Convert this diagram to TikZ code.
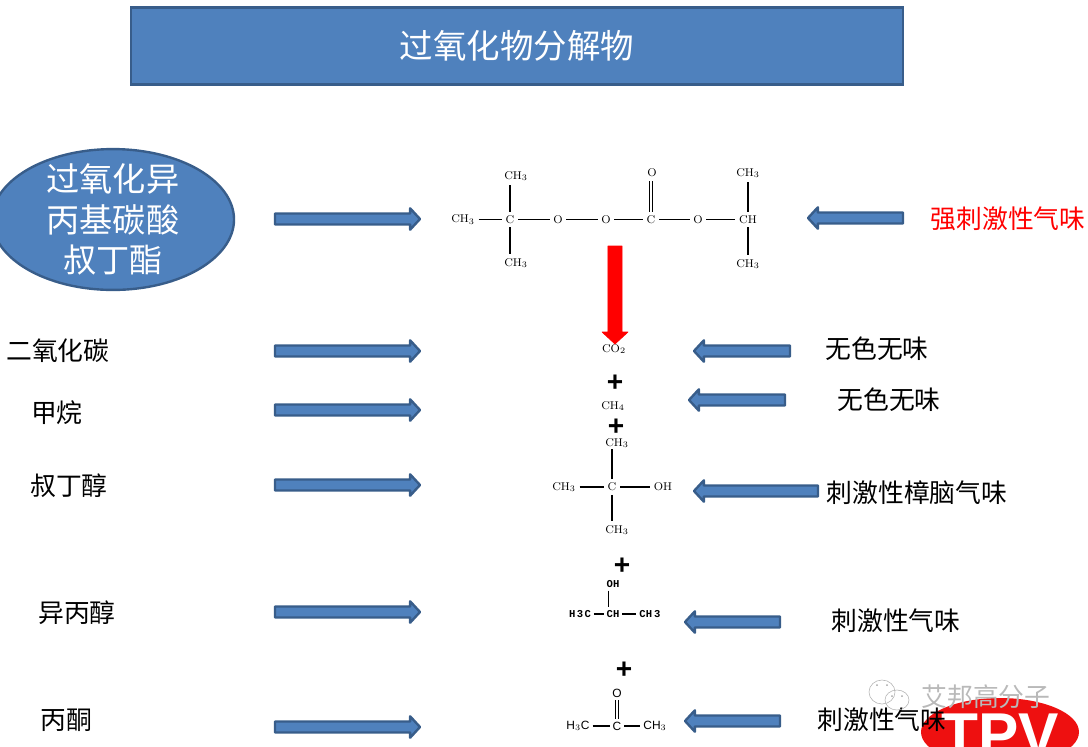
\documentclass[tikz,border=0pt]{standalone}
\usepackage{fontspec}
\newfontfamily\cjk{Noto Sans CJK SC}
\newfontfamily\helv{Liberation Sans}
\newfontfamily\cour{Liberation Mono}
\usetikzlibrary{calc,shapes.geometric}
\definecolor{boxblue}{HTML}{4F81BD}
\definecolor{edgeblue}{HTML}{385D8A}
\definecolor{logored}{HTML}{EE1010}
\tikzset{
  fatarrow/.style args={#1/#2/#3}{to path={
    ($(\tikztostart)!#1!90:(\tikztotarget)$)
    -- ($($(\tikztotarget)!#3!(\tikztostart)$)!#1!90:(\tikztotarget)$)
    -- ($($(\tikztotarget)!#3!(\tikztostart)$)!#2!90:(\tikztotarget)$)
    -- (\tikztotarget)
    -- ($($(\tikztotarget)!#3!(\tikztostart)$)!#2!-90:(\tikztotarget)$)
    -- ($($(\tikztotarget)!#3!(\tikztostart)$)!#1!-90:(\tikztotarget)$)
    -- ($(\tikztostart)!#1!-90:(\tikztotarget)$) -- cycle}},
  bluearrow/.style={fatarrow={3.9pt/7.6pt/7pt},fill=boxblue,draw=edgeblue,line width=1.7pt,line join=round},
  redarrow/.style={fatarrow={5pt/9.2pt/8.5pt},fill=red,draw=red,line width=0.5pt,line join=round},
  label/.style={font=\cjk\fontsize{18.35}{22}\selectfont,inner sep=0pt},
  atom/.style={font=\fontsize{8}{9}\selectfont,inner sep=2.5pt},
  monoatom/.style={font=\cour\bfseries\fontsize{7.5}{9}\selectfont,inner sep=2pt},
  sansatom/.style={font=\helv\fontsize{8.5}{10}\selectfont,inner sep=2pt},
  plus/.style={font=\helv\bfseries\fontsize{20}{20}\selectfont,inner sep=0pt},
  bond/.style={line width=0.8pt},
  dbond/.style={line width=0.7pt,double,double distance=1.6pt}
}
\begin{document}
\begin{tikzpicture}[x=0.025cm,y=-0.025cm]
  \useasboundingbox (0,0) rectangle (1088,746);
  \clip (0,0) rectangle (1088,746);

  \node[draw=edgeblue,fill=boxblue,line width=1.7pt,minimum width=19.3cm,minimum height=1.925cm,inner sep=0pt,text=white,font=\cjk\fontsize{23.8}{28}\selectfont] (title) at (517,46) {过氧化物分解物};
  \node[ellipse,draw=edgeblue,fill=boxblue,line width=1.7pt,minimum width=6.05cm,minimum height=3.52cm,inner sep=0pt] (perox) at (113,219.5) {};
  \node[text=white,align=center,inner sep=0pt,font=\cjk\fontsize{23.6}{29}\selectfont] (peroxname) at (perox) {过氧化异\\丙基碳酸\\叔丁酯};

  \node[atom] (c1) at (510,219.5) {C};
  \node[atom] (m1) at (516,176) {CH$_3$};
  \node[atom] (m2) at (463,219.5) {CH$_3$};
  \node[atom] (m3) at (516,263) {CH$_3$};
  \node[atom] (o1) at (558,219.5) {O};
  \node[atom] (o2) at (606,219.5) {O};
  \node[atom] (c2) at (651,219.5) {C};
  \node[atom] (o3) at (652,173) {O};
  \node[atom] (o4) at (698,219.5) {O};
  \node[atom] (ch1) at (748,219.5) {CH};
  \node[atom] (m4) at (748,173) {CH$_3$};
  \node[atom] (m5) at (748,264) {CH$_3$};
  \draw[bond] (c1.north) -- (c1.north |- m1.south);
  \draw[bond] (c1.south) -- (c1.south |- m3.north);
  \draw[bond] (m2) -- (c1);
  \draw[bond] (c1) -- (o1);
  \draw[bond] (o1) -- (o2);
  \draw[bond] (o2) -- (c2);
  \draw[bond] (c2) -- (o4);
  \draw[bond] (o4) -- (ch1);
  \draw[dbond] (c2.north) -- (c2.north |- o3.south);
  \draw[bond] (ch1.north) -- (ch1.north |- m4.south);
  \draw[bond] (ch1.south) -- (ch1.south |- m5.north);

  \node[atom] (co2) at (614,349) {CO$_2$};
  \node[plus] (plus1) at (615,383) {+};
  \node[atom] (ch4) at (613,406) {CH$_4$};
  \node[plus] (plus2) at (616,427.5) {+};

  \node[atom] (c3) at (612,487) {C};
  \node[atom,inner sep=0.5pt] (m6) at (617,443) {CH$_3$};
  \node[atom] (m7) at (564,487) {CH$_3$};
  \node[atom] (oh1) at (663,487) {OH};
  \node[atom] (m8) at (617,530) {CH$_3$};
  \draw[bond] (c3.north) -- (c3.north |- m6.south);
  \draw[bond] (c3.south) -- (c3.south |- m8.north);
  \draw[bond] (m7) -- (c3);
  \draw[bond] (c3) -- (oh1);

  \node[plus] (plus3) at (622,566) {+};
  \node[monoatom] (oh2) at (613,584) {OH};
  \node[monoatom] (ch2) at (613,614) {CH};
  \node[monoatom] (m9) at (580,614) {H\hspace{1pt}3\hspace{1pt}C};
  \node[monoatom] (m10) at (650,614) {CH\hspace{1.5pt}3};
  \draw[bond] ([xshift=-3pt]oh2.south) -- ([xshift=-3pt]oh2.south |- ch2.north);
  \draw[bond] (m9) -- (ch2);
  \draw[bond] (ch2) -- (m10);

  \node[plus] (plus4) at (624,670) {+};
  \node[sansatom] (c4) at (617,726) {C};
  \node[sansatom] (o5) at (617,693) {O};
  \node[sansatom] (m11) at (578,726) {H$_3$C};
  \node[sansatom] (m12) at (655,726) {CH$_3$};
  \draw[dbond] (c4) -- (o5);
  \draw[bond] (m11) -- (c4);
  \draw[bond] (c4) -- (m12);

  \coordinate (r1s) at (275,219);
  \coordinate (r1e) at (420,219);
  \coordinate (r2s) at (275,351);
  \coordinate (r2e) at (420,351);
  \coordinate (r3s) at (275,410);
  \coordinate (r3e) at (420,410);
  \coordinate (r4s) at (275,485);
  \coordinate (r4e) at (420,485);
  \coordinate (r5s) at (275,612);
  \coordinate (r5e) at (420,612);
  \coordinate (r6s) at (275,727);
  \coordinate (r6e) at (420,727);
  \draw[bluearrow] (r1s) to (r1e);
  \draw[bluearrow] (r2s) to (r2e);
  \draw[bluearrow] (r3s) to (r3e);
  \draw[bluearrow] (r4s) to (r4e);
  \draw[bluearrow] (r5s) to (r5e);
  \draw[bluearrow] (r6s) to (r6e);

  \coordinate (l1s) at (903,218);
  \coordinate (l1e) at (808,218);
  \coordinate (l2s) at (790,351);
  \coordinate (l2e) at (694,351);
  \coordinate (l3s) at (785,400);
  \coordinate (l3e) at (689,400);
  \coordinate (l4s) at (818,491);
  \coordinate (l4e) at (694,491);
  \coordinate (l5s) at (780,622);
  \coordinate (l5e) at (685,622);
  \coordinate (l6s) at (780,721);
  \coordinate (l6e) at (685,721);
  \draw[bluearrow] (l1s) to (l1e);
  \draw[bluearrow] (l2s) to (l2e);
  \draw[bluearrow] (l3s) to (l3e);
  \draw[bluearrow] (l4s) to (l4e);
  \draw[bluearrow] (l5s) to (l5e);
  \draw[bluearrow] (l6s) to (l6e);

  \coordinate (downs) at (615,246);
  \coordinate (downe) at (615,344);
  \draw[redarrow] (downs) to (downe);

  \node[label] (name1) at (58,351) {二氧化碳};
  \node[label] (name2) at (57,413) {甲烷};
  \node[label] (name3) at (69,486) {叔丁醇};
  \node[label] (name4) at (77,613) {异丙醇};
  \node[label] (name5) at (66,720) {丙酮};

  \fill[logored] (1000,732) ellipse (79 and 34);
  \node[font=\helv\bfseries\fontsize{43}{43}\selectfont,text=white,inner sep=0pt] (tpv) at (1000,735) {TPV};

  \node[label,text=red] (smell0) at (1008,219) {强刺激性气味};
  \node[label] (smell1) at (877,349) {无色无味};
  \node[label] (smell2) at (889,400) {无色无味};
  \node[label] (smell3) at (917,493) {刺激性樟脑气味};
  \node[label] (smell4) at (896,621) {刺激性气味};
  \node[label] (smell5) at (882,720) {刺激性气味};

  \draw[gray!60,line width=0.4pt] (882,692) ellipse (13 and 12);
  \draw[gray!60,line width=0.4pt] (897,700) ellipse (12 and 10);
  \fill[gray!70] (877,685) circle (1);
  \fill[gray!70] (887,685) circle (1);
  \fill[gray!70] (892,696) circle (1);
  \fill[gray!70] (902,696) circle (1);
  \node[label,text=gray!55] (mark) at (986,697) {艾邦高分子};
\end{tikzpicture}
\end{document}
